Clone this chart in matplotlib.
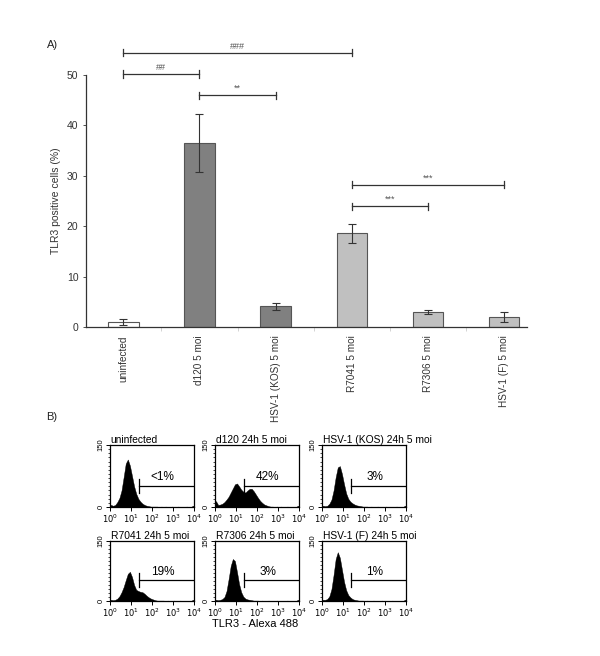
import numpy as np
import matplotlib
matplotlib.use("Agg")
import matplotlib.pyplot as plt
from matplotlib.ticker import FixedLocator, NullFormatter

plt.rcParams['font.family'] = ['Liberation Sans', 'DejaVu Sans']

# ---------------- Panel A data ----------------
categories = ["uninfected", "d120 5 moi", "HSV-1 (KOS) 5 moi",
              "R7041 5 moi", "R7306 5 moi", "HSV-1 (F) 5 moi"]
values = [1.0, 36.5, 4.1, 18.6, 3.0, 2.0]
errors = [0.6, 5.8, 0.7, 1.9, 0.4, 1.0]
bar_colors = ["#ffffff", "#808080", "#808080", "#c0c0c0", "#c0c0c0", "#c0c0c0"]
# significance brackets: (from index, to index, height, label)
brackets = [(0, 3, 54.4, "###"), (0, 1, 50.2, "##"), (1, 2, 46.0, "**"),
            (3, 5, 28.2, "***"), (3, 4, 24.0, "***")]

# ---------------- Panel B data ----------------
hist_titles = ["uninfected", "d120 24h 5 moi", "HSV-1 (KOS) 24h 5 moi",
               "R7041 24h 5 moi", "R7306 24h 5 moi", "HSV-1 (F) 24h 5 moi"]
gate_labels = ["<1%", "42%", "3%", "19%", "3%", "1%"]
# log10 bin centres (0.1 decade)
log_centres = [0.05, 0.15, 0.25, 0.35, 0.45, 0.55, 0.65, 0.75, 0.85, 0.95,
               1.05, 1.15, 1.25, 1.35, 1.45, 1.55, 1.65, 1.75, 1.85, 1.95,
               2.05, 2.15, 2.25, 2.35, 2.45, 2.55, 2.65, 2.75, 2.85, 2.95,
               3.05, 3.15, 3.25, 3.35, 3.45, 3.55, 3.65, 3.75, 3.85, 3.95]
counts_uninf = [5, 3, 5, 12, 22, 40, 72, 105, 115, 100, 75, 50, 32, 20, 13, 8, 5, 3, 2, 1,
                1, 1, 1, 0, 1, 0, 1, 0, 0, 1, 0, 0, 1, 0, 0, 0, 1, 0, 0, 3]
counts_d120 = [14, 5, 6, 8, 12, 18, 25, 35, 45, 55, 57, 50, 42, 37, 35, 40, 44, 44, 38, 30,
               22, 15, 10, 6, 4, 2, 1, 1, 0, 1, 0, 1, 0, 0, 1, 0, 0, 0, 0, 3]
counts_kos = [3, 2, 3, 8, 18, 40, 72, 96, 99, 80, 55, 33, 20, 13, 9, 6, 4, 3, 2, 1,
              1, 1, 0, 1, 0, 0, 1, 0, 0, 0, 1, 0, 0, 0, 0, 1, 0, 0, 0, 3]
counts_r7041 = [3, 2, 3, 6, 12, 22, 35, 52, 68, 73, 60, 40, 28, 25, 23, 22, 18, 13, 9, 6,
                4, 2, 1, 1, 1, 1, 0, 1, 0, 0, 1, 0, 0, 1, 0, 0, 0, 0, 0, 3]
counts_r7306 = [3, 2, 3, 5, 10, 25, 55, 88, 105, 100, 72, 42, 22, 11, 6, 4, 3, 2, 1, 1,
                1, 0, 1, 0, 0, 1, 0, 0, 0, 1, 0, 0, 0, 0, 1, 0, 0, 0, 0, 3]
counts_f = [3, 3, 5, 12, 30, 65, 105, 122, 108, 78, 48, 27, 15, 9, 5, 3, 2, 1, 1, 1,
            0, 1, 0, 0, 1, 0, 0, 0, 1, 0, 0, 0, 0, 1, 0, 0, 0, 0, 0, 3]
hist_counts = [counts_uninf, counts_d120, counts_kos, counts_r7041, counts_r7306, counts_f]
gate_log_pos = 1.4

fig = plt.figure(figsize=(6.0, 6.56), dpi=100)

# ================= Panel A =================
ax = fig.add_axes([0.1433, 0.5015, 0.735, 0.3842])
x = np.arange(len(categories))
ax.bar(x, values, width=0.4, color=bar_colors, edgecolor="#555555", linewidth=0.8, zorder=2)
ax.errorbar(x, values, yerr=errors, fmt="none", ecolor="#333333", elinewidth=0.8,
            capsize=3, capthick=0.8, zorder=3)
ax.set_xlim(-0.49, 5.3)
ax.set_ylim(0, 50)
ax.set_yticks([0, 10, 20, 30, 40, 50])
ax.tick_params(axis="y", labelsize=7.5, colors="#333333", length=2, width=0.6)
ax.set_xticks(x)
ax.set_xticklabels(categories, rotation=90, fontsize=7.2, color="#333333", va="top")
ax.tick_params(axis="x", length=0, pad=6)
ax.xaxis.set_minor_locator(FixedLocator(np.arange(0.5, 5.5, 1.0)))
ax.tick_params(axis="x", which="minor", length=3, color="#cccccc", width=0.6)
for s in ["top", "right"]:
    ax.spines[s].set_visible(False)
ax.spines["left"].set_color("#333333")
ax.spines["bottom"].set_color("#333333")
ax.spines["left"].set_linewidth(0.9)
ax.spines["bottom"].set_linewidth(0.9)
ax.set_ylabel("TLR3 positive cells (%)", fontsize=7.5, color="#333333", labelpad=4)

for i0, i1, h, lab in brackets:
    ax.plot([x[i0], x[i1]], [h, h], color="#333333", lw=0.9, clip_on=False)
    for xi in (x[i0], x[i1]):
        ax.plot([xi, xi], [h - 0.7, h + 0.7], color="#333333", lw=0.9, clip_on=False)
    ax.text((x[i0] + x[i1]) / 2, h + 0.4, lab, ha="center", va="bottom",
            fontsize=6.5, color="#555555", clip_on=False)

fig.text(0.078, 0.931, "A)", fontsize=8, color="#222222", va="center")
fig.text(0.077, 0.364, "B)", fontsize=8, color="#222222", va="center")

# ================= Panel B =================
lefts = [0.1833, 0.3583, 0.5367]
rows = [(0.2271, 0.0945), (0.0838, 0.0915)]
for k in range(6):
    r, c = divmod(k, 3)
    b, h = rows[r]
    hx = fig.add_axes([lefts[c], b, 0.14, h])
    xs = 10 ** np.array(log_centres)
    xs_full = np.concatenate([[1.0], xs, [10 ** 4]])
    cnt = np.array(hist_counts[k], dtype=float)
    ys_full = np.concatenate([[cnt[0]], cnt, [cnt[-1]]])
    hx.fill_between(xs_full, ys_full, 0, color="black", lw=0.3, edgecolor="black")
    hx.set_xscale("log")
    hx.set_xlim(1, 1e4)
    hx.set_ylim(0, 150)
    # gate
    gx = 10 ** gate_log_pos
    hx.plot([gx, gx], [35, 69], color="black", lw=0.9)
    hx.plot([gx, 1e4], [52, 52], color="black", lw=0.9)
    hx.text(10 ** 2.5, 58, gate_labels[k], ha="center", va="bottom", fontsize=8.5)
    hx.set_title(hist_titles[k], loc="left", fontsize=7.4, pad=1.5, x=0.01)
    hx.set_xticks([1, 10, 100, 1000, 10000])
    hx.set_xticklabels([r"$10^{0}$", r"$10^{1}$", r"$10^{2}$", r"$10^{3}$", r"$10^{4}$"],
                       fontsize=6)
    hx.xaxis.set_minor_locator(matplotlib.ticker.LogLocator(base=10, subs=np.arange(2, 10)))
    hx.xaxis.set_minor_formatter(NullFormatter())
    hx.set_yticks([0, 150])
    hx.set_yticklabels(["0", "150"], rotation=90, fontsize=5.5, va="center")
    hx.yaxis.set_minor_locator(FixedLocator(np.arange(0, 151, 10)))
    hx.tick_params(axis="both", which="major", direction="out", length=3, width=0.7, pad=1)
    hx.tick_params(axis="both", which="minor", direction="out", length=1.5, width=0.5)
    for s in hx.spines.values():
        s.set_linewidth(0.9)

fig.text(0.425, 0.049, "TLR3 - Alexa 488", ha="center", va="center", fontsize=8)

fig.savefig("out.png", dpi=100)
